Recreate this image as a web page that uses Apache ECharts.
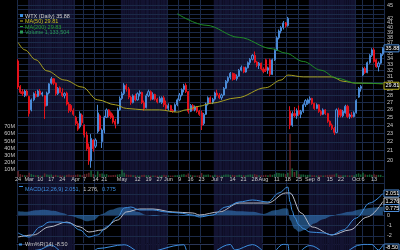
<!DOCTYPE html>
<html>
<head>
<meta charset="utf-8">
<script src="https://cdn.jsdelivr.net/npm/echarts@6.0.0/dist/echarts.min.js"></script>
<style>
html,body{margin:0;padding:0;background:#000;overflow:hidden}
#chart{width:400px;height:250px}
</style>
</head>
<body>
<div id="chart"></div>
<script>
// ---- trading days (2014) ----
const febDays=[24,25,26,27,28];
const marDays=[3,4,5,6,7,10,11,12,13,14,17,18,19,20,21,24,25,26,27,28,31];
const aprDays=[1,2,3,4,7,8,9,10,11,14,15,16,17,21,22,23,24,25,28,29,30];
const mayDays=[1,2,5,6,7,8,9,12,13,14,15,16,19,20,21,22,23,27,28,29,30];
const junDays=[2,3,4,5,6,9,10,11,12,13,16,17,18,19,20,23,24,25,26,27,30];
const julDays=[1,2,3,7,8,9,10,11,14,15,16,17,18,21,22,23,24,25,28,29,30,31];
const augDays=[1,4,5,6,7,8,11,12,13,14,15,18,19,20,21,22,25,26,27,28,29];
const sepDays=[2,3,4,5,8,9,10,11,12,15,16,17,18,19,22,23,24,25,26,29,30];
const octDays=[1,2,3,6,7,8,9,10,13,14,15,16,17];
const monthDays=[[2,febDays],[3,marDays],[4,aprDays],[5,mayDays],[6,junDays],[7,julDays],[8,augDays],[9,sepDays],[10,octDays]];
const categories=[];
monthDays.forEach(([m,ds])=>ds.forEach(d=>categories.push(m+'/'+d)));
const shadedMonths=[3,5,7,9];

// ---- x tick labels ----
const tickLabels=[['2/24','24'],['3/3','Mar'],['3/10','10'],['3/17','17'],['3/24','24'],['4/1','Apr'],['4/7','7'],['4/14','14'],['4/21','21'],['5/1','May'],['5/12','12'],['5/19','19'],['5/27','27'],['6/2','Jun'],['6/9','9'],['6/16','16'],['6/23','23'],['7/1','Jul'],['7/7','7'],['7/14','14'],['7/21','21'],['7/28','28'],['8/1','Aug'],['8/11','11'],['8/18','18'],['8/25','25'],['9/2','Sep'],['9/8','8'],['9/15','15'],['9/22','22'],['10/1','Oct'],['10/6','6'],['10/13','13']];

// ---- price (OHLC) ----
const opens=[33.6,29.4,28.6,28.0,28.7,
27.9,26.0,27.4,28.2,27.9,28.7,28.2,28.0,26.6,28.4,29.9,30.6,29.9,28.3,29.2,28.5,28.0,28.4,26.8,26.6,25.9,
25.0,24.2,23.8,25.3,24.0,22.8,21.4,19.9,22.2,21.5,23.2,25.2,22.0,23.4,25.0,26.0,25.6,25.2,24.5,24.2,26.0,
27.6,28.3,29.5,29.0,27.8,27.0,28.0,27.4,28.3,28.5,27.0,26.3,28.0,28.6,27.5,28.2,27.5,27.1,27.0,27.7,26.7,
26.2,26.6,25.9,25.8,26.7,27.4,28.1,28.9,29.6,28.6,25.8,26.6,26.0,26.4,25.8,25.6,24.2,25.4,26.8,27.7,27.0,
27.5,28.4,28.1,27.7,28.1,29.1,30.2,30.8,31.5,31.3,30.6,31.0,32.0,32.5,31.7,32.4,33.3,33.9,34.6,33.4,32.8,33.2,
32.2,33.8,32.0,33.8,31.3,33.8,35.5,37.9,39.3,40.0,41.0,40.4,25.8,24.0,25.5,25.2,25.9,25.4,25.8,26.7,26.9,
27.4,27.6,26.9,26.2,26.7,25.8,25.4,26.0,25.5,24.5,24.0,23.6,23.1,26.0,26.0,25.2,25.6,26.5,25.1,25.3,25.1,
25.6,27.8,29.1,31.2,32.3,31.6,33.3,34.6,35.6,33.8,32.6,33.2,34.8];
const closes=[29.3,28.5,28.3,28.7,28.1,
25.5,27.4,28.3,27.9,28.7,28.2,28.4,26.5,28.4,29.8,30.6,29.9,28.3,29.1,28.5,28.0,28.3,26.8,25.9,25.9,25.4,
24.2,23.5,25.5,24.3,22.8,21.2,19.9,22.4,21.2,22.2,25.6,23.5,23.4,25.0,26.0,25.2,25.0,24.4,24.1,26.0,27.6,
28.3,29.6,29.0,27.8,27.0,28.0,27.4,28.3,28.5,27.0,26.2,28.0,28.6,27.5,28.2,27.5,27.1,27.6,27.7,26.7,26.2,
26.6,25.9,25.8,26.7,27.4,28.1,28.9,29.5,28.6,25.8,26.6,26.0,26.4,25.8,25.4,24.0,25.4,26.8,27.7,27.0,27.5,
28.4,28.1,27.7,28.1,29.1,30.2,30.8,31.5,30.5,30.6,31.0,32.0,32.5,31.7,32.4,33.3,33.9,34.6,33.4,32.8,33.2,32.2,
31.8,32.0,32.4,31.3,33.8,35.5,37.9,39.3,40.0,41.0,40.4,42.0,24.0,25.5,25.2,25.9,25.4,25.8,26.7,27.3,27.4,
27.6,26.9,26.2,26.7,25.8,25.4,26.0,25.5,24.5,24.0,23.6,23.1,26.0,25.3,25.2,25.8,26.5,25.1,25.3,25.1,25.6,
27.3,29.1,29.4,32.3,31.6,33.3,34.6,35.6,33.5,32.6,33.2,34.8,35.88];
const highs=[33.9,29.6,29.0,28.9,28.9,
28.0,27.6,28.5,28.7,28.9,29.0,28.6,28.1,28.6,29.9,30.9,30.7,30.0,29.3,29.4,29.1,28.5,28.6,27.1,26.8,26.2,
25.2,24.5,25.8,25.5,24.1,23.2,21.8,22.9,22.3,22.4,26.7,25.4,23.6,25.2,26.2,26.1,25.8,25.5,24.8,26.3,27.9,
28.6,29.9,29.8,29.3,28.0,28.2,28.3,28.5,28.8,28.6,27.3,28.3,28.9,28.8,28.5,28.3,27.7,27.9,27.9,28.0,27.3,
26.9,26.7,26.1,26.9,27.6,28.4,29.1,29.8,29.9,28.7,26.8,26.8,26.6,26.5,26.0,25.9,25.6,27.0,27.9,27.9,27.7,
28.6,28.9,28.4,28.3,29.3,30.4,31.0,31.7,31.6,31.5,31.3,32.2,32.8,32.6,32.6,33.5,34.1,34.8,35.3,33.6,33.4,33.3,
32.5,34.0,32.6,34.0,34.0,35.8,38.2,39.6,40.3,41.4,41.2,42.3,26.5,25.8,26.4,26.2,26.6,26.0,26.9,27.5,27.6,
27.9,27.7,27.0,26.9,26.8,26.0,26.2,26.1,25.6,24.6,24.2,23.8,26.2,26.3,26.1,26.0,26.7,26.7,25.5,25.7,25.8,
27.5,29.3,29.6,32.5,32.6,33.5,34.8,35.9,36.0,34.0,33.5,35.0,36.1];
const lows=[29.0,28.3,28.0,27.8,27.9,
25.1,25.8,27.2,27.7,27.8,28.0,27.9,24.8,26.5,28.2,29.7,29.6,28.0,28.1,28.4,27.8,27.6,26.6,25.6,25.7,25.2,
24.0,23.3,23.6,24.0,22.5,21.0,19.5,19.2,20.9,21.3,23.0,23.3,21.3,23.0,24.9,25.0,24.8,24.2,23.6,24.1,25.9,
27.4,28.1,28.6,27.5,26.7,26.9,27.2,27.3,27.9,26.8,25.9,26.2,27.8,27.3,27.4,27.3,26.9,27.0,26.8,26.4,26.0,
25.9,25.7,25.6,25.7,26.5,27.2,27.9,28.5,28.4,25.5,25.7,25.9,25.8,25.6,25.2,23.4,24.0,25.3,26.6,26.8,26.8,
27.3,27.9,27.5,27.4,28.0,29.0,29.9,30.5,30.3,30.4,30.3,30.9,31.8,31.5,31.6,32.3,32.9,33.7,33.2,32.5,32.2,32.0,
31.5,31.7,31.4,31.0,31.2,33.6,35.4,37.6,38.8,39.6,40.0,40.2,23.5,23.8,25.0,24.8,25.2,24.9,25.6,26.4,26.7,
26.9,26.7,26.0,26.1,25.6,25.2,25.3,25.3,24.3,23.8,23.4,22.8,23.0,25.0,25.0,25.0,25.5,24.9,24.8,24.9,25.0,
25.5,27.7,28.6,31.0,31.4,31.5,33.1,34.3,33.3,32.4,31.8,33.0,34.5];
// volume, millions
const volumesM=[8.5,4.0,3.0,2.5,2.5,
6.0,4.0,3.0,2.5,2.8,2.2,2.0,5.0,3.5,3.0,3.5,2.5,3.0,2.2,2.5,2.0,2.2,3.0,3.5,2.5,2.8,
3.0,3.5,3.0,2.5,4.0,4.5,6.0,9.0,4.0,3.0,8.0,4.5,5.0,3.5,4.0,2.5,2.5,2.8,3.0,3.5,4.0,
10.0,6.0,3.5,3.0,3.0,2.5,2.5,2.2,2.0,2.8,3.0,2.5,2.5,2.0,2.0,2.2,2.0,2.0,2.5,3.0,2.5,
2.2,2.0,2.0,2.5,2.5,3.0,3.5,4.0,3.0,5.0,3.0,2.5,2.2,2.0,2.5,5.5,3.0,3.0,3.5,2.5,2.2,
3.0,2.5,2.0,2.2,3.0,3.5,3.5,3.0,3.0,2.5,2.5,3.0,3.0,2.5,2.5,3.0,3.5,3.5,4.0,3.0,2.5,2.5,
2.5,3.0,2.5,3.5,3.0,4.0,6.0,5.5,5.0,5.0,4.0,6.0,60.0,12.0,7.0,9.0,4.0,3.5,3.5,3.0,3.0,
3.0,2.5,2.5,2.2,2.5,2.5,2.2,2.5,3.0,3.0,3.0,3.5,5.0,3.0,2.5,2.5,2.5,2.5,2.2,2.5,2.5,
4.0,5.0,3.5,6.0,3.5,3.0,3.5,3.0,4.0,3.0,3.0,3.0,1.13];

// ---- moving averages ----
const ma50Dates=['2/24','2/27','3/6','3/13','3/25','4/4','4/15','4/28','5/5','5/15','5/27','6/6','6/12','6/20','6/27','7/16','8/4','8/13','8/18','8/27','9/16','9/23','10/1','10/17'];
const ma50Vals=[37.0,35.6,33.8,31.9,30.4,29.3,27.4,26.7,26.2,26.0,26.0,25.7,26.0,26.5,26.9,27.7,29.2,30.4,31.2,30.9,30.9,30.2,29.9,29.81];
const ma200Dates=['6/6','6/25','7/17','8/7','8/15','8/27','9/9','9/18','10/1','10/17'];
const ma200Vals=[43.0,40.5,38.0,35.8,35.0,33.5,32.0,30.7,29.9,29.83];

// ---- MACD(12,26,9) ----
const macdDates=['2/24','3/3','3/10','3/14','3/21','3/27','4/3','4/9','4/15','4/22','4/29','5/2','5/7','5/13','5/21','5/30','6/9','6/17','6/20','6/30','7/9','7/17','7/25','8/5','8/12','8/18','8/19','8/20','8/21','8/25','8/27','9/2','9/10','9/16','9/23','10/1','10/9','10/17'];
const macdVals=[-1.71,-2.1,-1.14,-0.67,-0.67,-0.76,-1.43,-2.1,-1.9,-1.14,-0.19,0.67,0.76,0.48,0.48,0.29,0.19,0.0,-0.19,0.0,0.76,1.24,1.43,1.24,2.1,2.67,1.25,0.4,-0.2,-0.95,-1.3,-1.62,-1.71,-1.9,-1.43,-0.29,1.14,2.051];
const signalDates=['2/24','3/5','3/14','3/26','4/3','4/9','4/17','4/29','5/5','5/13','5/21','6/4','6/17','6/20','7/3','7/17','8/5','8/15','8/19','8/26','9/3','9/16','9/26','10/8','10/17'];
const signalVals=[-2.1,-1.9,-1.14,-0.67,-1.14,-1.62,-1.43,-0.48,0.29,0.57,0.57,0.29,0.19,0.0,0.29,1.14,1.14,2.1,2.1,0.19,-1.14,-1.9,-1.43,-0.19,1.276];
const histDates=['2/24','2/28','3/6','3/12','3/18','3/24','3/28','4/3','4/8','4/11','4/17','4/24','4/30','5/6','5/12','5/16','5/22','5/29','6/4','6/12','6/20','6/26','7/2','7/10','7/17','7/25','8/1','8/8','8/15','8/18','8/19','8/21','8/25','8/28','9/4','9/10','9/16','9/19','9/26','10/3','10/10','10/17'];
const histVals=[0.35,0.3,0.45,0.5,0.4,0.2,-0.1,-0.35,-0.6,-0.5,0.1,0.5,0.75,0.7,0.3,0.0,-0.1,0.05,0.0,-0.1,-0.15,-0.05,0.15,0.45,0.35,0.3,0.1,0.45,0.65,0.6,-0.5,-1.3,-1.6,-1.4,-0.8,-0.4,-0.1,0.1,0.3,0.55,0.7,0.775];

// ---- Williams %R(14) (only top sliver visible) ----
const wmrDates=['2/24','3/7','3/17','3/24','4/9','4/15','5/2','5/14','6/11','6/13','6/23','7/11','7/15','7/25','8/6','8/14','8/18','8/19','9/2','9/17','10/3','10/6','10/10','10/15','10/17'];
const wmrVals=[-95,-40,-8,-50,-95,-30,-5,-60,-5,-70,-90,-3,-40,-4,-70,-2,-2,-95,-10,-95,-6,-2,-3,-40,-8.5];

// ---- axis tick values ----
const priceGridLevels=[19,20,21,22,23,24,25,26,27,28,29,30,31,32,33,34,35,36,37,38,39,40,41,42,43,44,45];
const priceLabelLevels=[20,21,22,23,24,25,26,27,28,29,30,31,32,33,34,35,37,38,39,40,41,42,45];
const macdGridLevels=[-2,-1,0,1,2,3];
const macdLabelLevels=[-2,-1,0];

// ---- colours ----
const NAVY='#131331', GRID='#1b2a48', UPC='#4a8ad6', DNC='#e3121c', LBL='#c8c8c8';
const FONT='Liberation Sans';

const tickMap={}; tickLabels.forEach(([c,t])=>tickMap[c]=t);
const isTick=(i,v)=>tickMap[v]!==undefined;
const pair=(ds,vs)=>ds.map((d,i)=>[d,vs[i]]);

const L=17, R=16;
const chart=echarts.init(document.getElementById('chart'),null,{renderer:'canvas'});

const xBase=(gi,extra)=>Object.assign({type:'category',gridIndex:gi,data:categories,boundaryGap:true,
  axisLine:{show:false},axisTick:{show:false},axisLabel:{show:false},splitLine:{show:false}},extra||{});
const vSplit={show:true,interval:isTick,lineStyle:{color:GRID,width:1}};

const bandData=categories.map(c=>shadedMonths.includes(+c.split('/')[0])?1:null);
const lineCommon={showSymbol:false,silent:true,smooth:0.35,smoothMonotone:'x'};

const option={
  backgroundColor:'#000',
  animation:false,
  grid:[
    {left:L,right:R,top:0,height:250},
    {left:L,right:R,top:0,height:183},
    {left:L,right:R,top:120,height:57},
    {left:L,right:R,top:183,height:60},
    {left:L,right:R,top:244,height:60}
  ],
  xAxis:[
    xBase(0),
    xBase(1,{splitLine:vSplit}),
    xBase(2),
    xBase(3,{position:'top',splitLine:vSplit,axisLine:{show:true,lineStyle:{color:'#2a3656'}},
      axisLabel:{show:true,interval:isTick,formatter:v=>tickMap[v]||'',color:LBL,fontSize:5.5,fontFamily:FONT,margin:1}}),
    xBase(4,{splitLine:vSplit,position:'top',axisLine:{show:true,lineStyle:{color:'#2a3656'}}})
  ],
  yAxis:[
    {type:'value',gridIndex:0,min:0,max:1,show:false},
    {type:'log',gridIndex:1,min:17.73,max:46.22,position:'right',axisLine:{show:false},axisTick:{show:false},axisLabel:{show:false},splitLine:{show:false}},
    {type:'value',gridIndex:2,min:0,max:79.5,interval:10,position:'left',axisLine:{show:false},axisTick:{show:false},splitLine:{show:false},
      axisLabel:{show:true,showMinLabel:false,formatter:v=>(v>0&&v<=70)?v+'M':'',color:LBL,fontSize:5.5,fontFamily:FONT,margin:2}},
    {type:'value',gridIndex:3,min:-2.67,max:3.05,show:false},
    {type:'value',gridIndex:4,min:-100,max:0,show:false}
  ],
  series:[
    {type:'bar',xAxisIndex:0,yAxisIndex:0,data:bandData,barCategoryGap:'0%',barGap:'0%',itemStyle:{color:NAVY},silent:true,z:0},
    {type:'bar',xAxisIndex:2,yAxisIndex:2,z:2,barWidth:'70%',silent:true,
      data:volumesM.map((v,i)=>({value:v,itemStyle:{color:closes[i]>=opens[i]?'rgba(28,110,62,0.85)':'rgba(110,40,44,0.85)'}}))},
    {type:'candlestick',xAxisIndex:1,yAxisIndex:1,z:3,barWidth:'72%',
      data:categories.map((c,i)=>[opens[i],closes[i],lows[i],highs[i]]),
      itemStyle:{color:'#10264a',color0:DNC,borderColor:UPC,borderColor0:DNC,borderWidth:1},
      markLine:{z:1,silent:true,symbol:['none','none'],animation:false,
        lineStyle:{color:GRID,width:1,type:'solid'},
        label:{show:false},
        emphasis:{disabled:true},
        data:priceGridLevels.map(p=>({yAxis:p,label:{show:priceLabelLevels.includes(p),position:'end',distance:3,formatter:String(p),color:LBL,fontSize:5.5,fontFamily:FONT}}))}
    },
    Object.assign({type:'line',xAxisIndex:1,yAxisIndex:1,z:4,data:pair(ma50Dates,ma50Vals),lineStyle:{color:'#a8a020',width:1}},lineCommon),
    Object.assign({type:'line',xAxisIndex:1,yAxisIndex:1,z:4,data:pair(ma200Dates,ma200Vals),lineStyle:{color:'#1f8c26',width:1}},lineCommon),
    Object.assign({type:'line',xAxisIndex:3,yAxisIndex:3,z:2,data:pair(histDates,histVals),
      lineStyle:{width:0},areaStyle:{color:'rgba(52,120,190,0.85)',origin:0},
      markLine:{z:1,silent:true,symbol:['none','none'],animation:false,
        lineStyle:{color:GRID,width:1,type:'solid'},
        emphasis:{disabled:true},
        data:macdGridLevels.map(p=>({yAxis:p,label:{show:macdLabelLevels.includes(p),position:'end',distance:3,formatter:String(p),color:LBL,fontSize:5.5,fontFamily:FONT}}))}},lineCommon),
    Object.assign({type:'line',xAxisIndex:3,yAxisIndex:3,z:3,data:pair(signalDates,signalVals),lineStyle:{color:'#b8bcc8',width:1}},lineCommon),
    Object.assign({type:'line',xAxisIndex:3,yAxisIndex:3,z:4,data:pair(macdDates,macdVals),lineStyle:{color:'#3d8fe0',width:1}},lineCommon),
    Object.assign({type:'line',xAxisIndex:4,yAxisIndex:4,z:3,data:pair(wmrDates,wmrVals),lineStyle:{color:'#3d8fe0',width:1}},lineCommon)
  ]
};
chart.setOption(option);

// value boxes on the right axis, positioned through the library's scales
const lastCat=categories[categories.length-1];
function yOf(xi,yi,v){return chart.convertToPixel({xAxisIndex:xi,yAxisIndex:yi},[lastCat,v])[1];}
function box(y,txt,border,color){
  return [{type:'rect',shape:{x:384,y:y-3.5,width:15,height:7},style:{fill:'#000',stroke:border,lineWidth:1},z:50},
          {type:'text',x:385.5,y:y-3,style:{text:txt,fill:color,fontSize:5.5,fontFamily:FONT},z:51}];
}
const g=[];
// legend
g.push({type:'rect',shape:{x:20,y:14,width:3,height:3},style:{fill:'#3d8fe0'},z:50});
g.push({type:'text',x:25,y:13,style:{text:'WTX (Daily) 35.88',fill:'#d0d0d0',fontSize:5.5,fontFamily:FONT},z:50});
g.push({type:'rect',shape:{x:20,y:20.5,width:3,height:1},style:{fill:'#c8c020'},z:50});
g.push({type:'text',x:25,y:18.5,style:{text:'MA(50) 29.81',fill:'#c8c020',fontSize:5.5,fontFamily:FONT},z:50});
g.push({type:'rect',shape:{x:20,y:26,width:3,height:1},style:{fill:'#28a030'},z:50});
g.push({type:'text',x:25,y:24,style:{text:'MA(200) 29.83',fill:'#28a030',fontSize:5.5,fontFamily:FONT},z:50});
g.push({type:'rect',shape:{x:20,y:30.5,width:3,height:3},style:{fill:'#2a9a5a'},z:50});
g.push({type:'text',x:25,y:29.5,style:{text:'Volume 1,133,504',fill:'#2a9a5a',fontSize:5.5,fontFamily:FONT},z:50});
// MACD legend
g.push({type:'rect',shape:{x:19,y:186,width:4,height:1},style:{fill:'#3d8fe0'},z:50});
g.push({type:'text',x:25,y:183.8,style:{rich:{a:{fill:'#3d8fe0',fontSize:5.5,fontFamily:FONT},b:{fill:'#c8c8c8',fontSize:5.5,fontFamily:FONT}},text:'{a|MACD(12,26,9) 2.051,} {b|1.276,} {a|0.775}'},z:50});
// Wm%R legend
g.push({type:'rect',shape:{x:19,y:243.5,width:3,height:2},style:{fill:'#3d8fe0'},z:50});
g.push({type:'text',x:25,y:241,style:{text:'Wm%R(14) -8.50',fill:'#c8c8c8',fontSize:5.5,fontFamily:FONT},z:50});
// right-axis value boxes
g.push(...box(yOf(1,1,35.88),'35.88',UPC,'#ffffff'));
g.push(...box(yOf(1,1,29.81)+2,'29.81','#b8b020','#ffffff'));
g.push(...box(193.5,'2.051',UPC,'#ffffff'));
g.push(...box(201.5,'1.276','#c0c0c0','#ffffff'));
g.push(...box(208,'0.775',UPC,'#ffffff'));
g.push(...box(247.5,'-8.50',UPC,'#ffffff'));
chart.setOption({graphic:g});
</script>
</body>
</html>
